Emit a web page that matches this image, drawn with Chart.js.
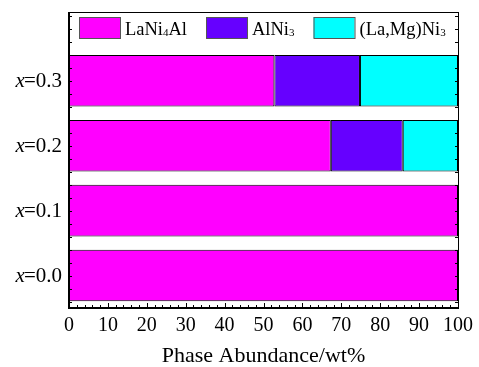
<!DOCTYPE html>
<html><head><meta charset="utf-8">
<script src="https://cdn.jsdelivr.net/npm/chart.js@4/dist/chart.umd.min.js"></script>
<style>html,body{margin:0;padding:0;background:#fff}canvas{display:block}</style>
</head><body>
<canvas id="c" width="479" height="367"></canvas>
<script>
// ---- data ----
const categories = ['x=0.0', 'x=0.1', 'x=0.2', 'x=0.3'];
const seriesNames = ['LaNi₄Al', 'AlNi₃', '(La,Mg)Ni₃'];
const laNi4Al = [100, 100, 67.3, 52.8];
const alNi3   = [0, 0, 18.5, 22.0];
const laMgNi3 = [0, 0, 14.2, 25.2];
const xTickStep = 2;
const xLabelStep = 10;
const yMinorStep = 0.2;
const xTitle = 'Phase Abundance/wt%';

const colors = ['#FF00FF', '#6600FF', '#00FFFF'];
const FONT = "'Liberation Serif', 'Times New Roman', serif";

function toPoints(vals) { return vals.map((v, i) => ({ x: v, y: i })); }

const seriesValues = [laNi4Al, alNi3, laMgNi3];
const datasets = seriesNames.map((n, k) => ({
  label: n,
  data: toPoints(seriesValues[k]),
  backgroundColor: colors[k],
  borderColor: '#000',
  borderWidth: 1,
  borderSkipped: false,
  categoryPercentage: 1,
  barPercentage: 0.794
}));

const SUBS = '₀₁₂₃₄₅₆₇₈₉';

function drawRich(ctx, text, x, baseY, size) {
  let cx = x;
  for (const ch of text) {
    const si = SUBS.indexOf(ch);
    if (si >= 0) {
      ctx.font = `${Math.round(size * 0.6)}px ${FONT}`;
      ctx.fillText(String(si), cx, baseY + 1);
      cx += ctx.measureText(String(si)).width;
    } else {
      ctx.font = `${size}px ${FONT}`;
      ctx.fillText(ch, cx, baseY);
      cx += ctx.measureText(ch).width;
    }
  }
  return cx - x;
}

const decor = {
  id: 'decor',
  beforeDraw(chart) {
    const c = chart.ctx;
    c.save(); c.fillStyle = '#fff'; c.fillRect(0, 0, chart.width, chart.height); c.restore();
  },
  afterDraw(chart) {
    const { ctx, chartArea: a, scales: { x, y } } = chart;
    ctx.save();
    ctx.strokeStyle = '#000';
    ctx.fillStyle = '#000';
    const line = (x1, y1, x2, y2) => { ctx.beginPath(); ctx.moveTo(x1, y1); ctx.lineTo(x2, y2); ctx.stroke(); };

    // y minor ticks (left and right, inward)
    ctx.lineWidth = 1;
    for (let k = Math.ceil(y.min / yMinorStep); k * yMinorStep <= y.max; k++) {
      const p = Math.round(y.getPixelForValue(k * yMinorStep)) + 0.5;
      if (p < a.top + 3 || p > a.bottom - 3) continue;
      line(a.left, p, a.left + 3, p);
      line(a.right, p, a.right - 3, p);
    }
    // x ticks (bottom, inward)
    x.ticks.forEach(t => {
      const p = Math.round(x.getPixelForValue(t.value)) + 0.5;
      const major = Math.round(t.value) % xLabelStep === 0;
      line(p, a.bottom, p, a.bottom - (major ? 5 : 3));
    });

    // frame
    ctx.lineWidth = 1;
    ctx.strokeRect(Math.round(a.left) + 0.5, Math.round(a.top) + 0.5, Math.round(a.right - a.left), Math.round(a.bottom - a.top));
    ctx.lineWidth = 2;
    line(Math.round(a.left), a.top, Math.round(a.left), a.bottom + 1);
    line(a.left - 1, Math.round(a.bottom), a.right + 1, Math.round(a.bottom));

    // y category labels with italic x
    ctx.textBaseline = 'middle';
    categories.forEach((lab, i) => {
      const py = y.getPixelForValue(i);
      const idx = lab.indexOf('=');
      const head = lab.slice(0, idx), rest = lab.slice(idx);
      const right = a.left - 7;
      ctx.font = `21px ${FONT}`;
      ctx.textAlign = 'right';
      ctx.fillText(rest, right, py + 1);
      const rw = ctx.measureText(rest).width;
      ctx.font = `italic 21px ${FONT}`;
      ctx.fillText(head, right - rw + 1, py + 1);
    });

    // legend inside plot
    ctx.textAlign = 'left';
    ctx.textBaseline = 'alphabetic';
    let lx = a.left + 10;
    const boxTop = a.top + 5, boxH = 21, boxW = 41;
    chart.data.datasets.forEach((ds) => {
      ctx.fillStyle = ds.backgroundColor;
      ctx.fillRect(lx, boxTop, boxW, boxH);
      ctx.strokeStyle = '#555';
      ctx.lineWidth = 1;
      ctx.strokeRect(lx + 0.5, boxTop + 0.5, boxW, boxH);
      ctx.fillStyle = '#000';
      const w = drawRich(ctx, ds.label, lx + boxW + 5, boxTop + 17.5, 18.5);
      lx += boxW + 5 + w + 19;
    });
    ctx.restore();
  }
};

new Chart(document.getElementById('c'), {
  type: 'bar',
  data: { datasets },
  options: {
    indexAxis: 'y',
    responsive: false,
    animation: false,
    devicePixelRatio: 1,
    layout: { padding: { top: 12, right: 4, bottom: 0, left: 0 } },
    plugins: { legend: { display: false }, tooltip: { enabled: false } },
    scales: {
      x: {
        type: 'linear', min: 0, max: 100, stacked: true, position: 'bottom', offset: false,
        grid: { display: false, drawTicks: false }, border: { display: false },
        ticks: {
          stepSize: xTickStep, autoSkip: false, maxRotation: 0, padding: 6, color: '#000',
          font: { family: FONT, size: 20 },
          callback: v => (Math.round(v) % xLabelStep === 0 ? String(Math.round(v)) : '')
        },
        title: { display: true, text: xTitle, color: '#000', font: { family: FONT, size: 22, lineHeight: 1, style: 'normal', weight: 'normal' }, padding: 0 },
        afterFit(s) { s.height = 59; }
      },
      y: {
        type: 'linear', min: -0.5, max: 4.06, stacked: true, offset: false,
        grid: { display: false, drawTicks: false }, border: { display: false },
        ticks: { display: false },
        afterBuildTicks(s) { s.ticks = categories.map((_, i) => ({ value: i })); },
        afterFit(s) { s.width = 69; }
      }
    }
  },
  plugins: [decor]
});
</script>
</body></html>
